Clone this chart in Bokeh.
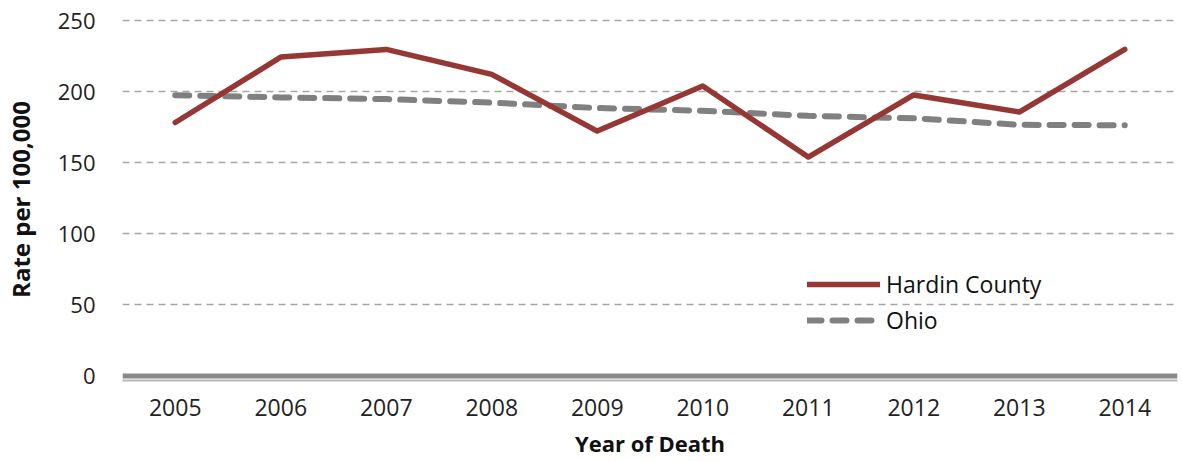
from bokeh.plotting import figure
from bokeh.models import FactorRange, Range1d, FixedTicker, Span, Legend, LegendItem
from bokeh.embed import file_html
from bokeh.resources import INLINE

# ---- data ----
years = ["2005", "2006", "2007", "2008", "2009", "2010", "2011", "2012", "2013", "2014"]
hardin = [178.5, 224.6, 230.0, 212.4, 172.5, 204.2, 154.2, 197.9, 185.9, 230.0]
ohio = [197.7, 196.2, 195.0, 192.5, 188.7, 186.8, 183.2, 181.5, 176.9, 176.6]
y_ticks = [0, 50, 100, 150, 200, 250]
series_names = ["Hardin County", "Ohio"]
x_title = "Year of Death"
y_title = "Rate per 100,000"

FONT = "Open Sans"
RED = "#953735"
GRAY = "#808080"

p = figure(
    width=1182, height=461,
    x_range=FactorRange(factors=years, range_padding=0),
    y_range=Range1d(-3.17, 251.76),
    output_backend="svg", toolbar_location=None,
    min_border_left=120, min_border_right=5, min_border_top=18, min_border_bottom=81,
)
p.outline_line_color = None
p.background_fill_color = "white"

# grid
p.xgrid.grid_line_color = None
p.ygrid.ticker = FixedTicker(ticks=[t for t in y_ticks if t != 0])
p.ygrid.grid_line_color = "#a6a6a6"
p.ygrid.grid_line_width = 1.6
p.ygrid.grid_line_dash = "7 5"

# baseline at zero (dark band) + axis line (light)
p.add_layout(Span(location=0, dimension="width", line_color="#898989", line_width=5))

# axes
xa = p.xaxis[0]
xa.axis_line_color = "#b8b8b8"
xa.axis_line_width = 2
xa.major_tick_line_color = None
xa.minor_tick_line_color = None
xa.major_tick_out = 0
xa.major_label_standoff = 18
xa.major_label_text_font = FONT
xa.major_label_text_font_size = "23px"
xa.major_label_text_color = "#222222"
xa.axis_label = x_title
xa.axis_label_text_font = FONT
xa.axis_label_text_font_size = "22px"
xa.axis_label_text_font_style = "bold"
xa.axis_label_text_color = "#111111"
xa.axis_label_standoff = 9

ya = p.yaxis[0]
ya.ticker = FixedTicker(ticks=y_ticks)
ya.axis_line_color = None
ya.major_tick_line_color = None
ya.minor_tick_line_color = None
ya.major_tick_out = 0
ya.major_label_standoff = 27
ya.major_label_text_font = FONT
ya.major_label_text_font_size = "22px"
ya.major_label_text_color = "#222222"
ya.axis_label = y_title
ya.axis_label_text_font = FONT
ya.axis_label_text_font_size = "24px"
ya.axis_label_text_font_style = "bold"
ya.axis_label_text_color = "#111111"
ya.axis_label_standoff = 18

# series
r_ohio = p.line(years, ohio, line_color=GRAY, line_width=6, line_dash="14 11",
                line_cap="round", line_join="round")
r_hardin = p.line(years, hardin, line_color=RED, line_width=5.5,
                  line_cap="round", line_join="round")

legend = Legend(
    items=[LegendItem(label=series_names[0], renderers=[r_hardin]),
           LegendItem(label=series_names[1], renderers=[r_ohio])],
    location=(685, 42),
    orientation="vertical",
    border_line_color=None,
    background_fill_alpha=0,
    padding=0, margin=0, spacing=0,
    glyph_width=73, glyph_height=36, label_height=36,
    label_standoff=6,
    label_text_font=FONT, label_text_font_size="23px", label_text_color="#111111",
    label_text_baseline="middle",
)
p.add_layout(legend, "center")

open("out.html", "w").write(file_html(p, INLINE))
